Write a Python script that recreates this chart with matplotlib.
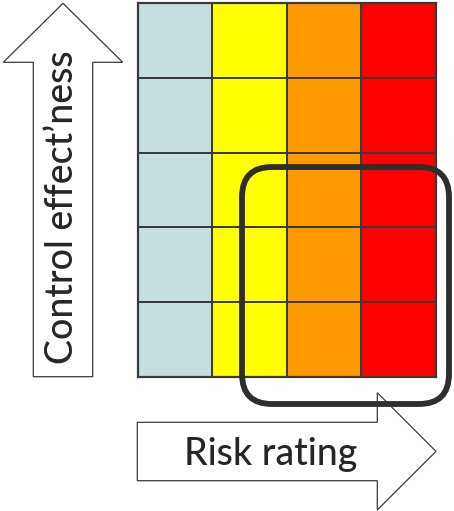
import numpy as np
import matplotlib
matplotlib.use("Agg")
import matplotlib.pyplot as plt
from matplotlib.colors import ListedColormap
from matplotlib.patches import Polygon, FancyBboxPatch

# risk rating columns (low -> high) and control effectiveness rows
risk_levels = ["Low", "Medium", "High", "Very high"]
risk_colors = ["#c5dee0", "#ffff00", "#ff9900", "#ff0000"]
control_levels = ["1", "2", "3", "4", "5"]

x_label = "Risk rating"
y_label = "Control effect\u2019ness"

W, H = 454, 511
line_col = "#3a3a3a"
text_col = "#262626"

fig = plt.figure(figsize=(W / 100, H / 100), dpi=100)

# heat grid
gx0, gx1, gy0, gy1 = 137.5, 436.0, 3.5, 376.5
ax = fig.add_axes([gx0 / W, 1 - gy1 / H, (gx1 - gx0) / W, (gy1 - gy0) / H])
grid = np.tile(np.arange(len(risk_levels)), (len(control_levels), 1))
ax.pcolormesh(grid, cmap=ListedColormap(risk_colors), vmin=-0.5,
              vmax=len(risk_levels) - 0.5, edgecolors=line_col, linewidth=1.1)
ax.set_xlim(0, len(risk_levels))
ax.set_ylim(0, len(control_levels))
ax.set_xticks([])
ax.set_yticks([])
for s in ax.spines.values():
    s.set_color(line_col)
    s.set_linewidth(1.6)

# overlay in pixel coordinates for the arrows and highlight box
ov = fig.add_axes([0, 0, 1, 1])
ov.set_xlim(0, W)
ov.set_ylim(H, 0)
ov.axis("off")

up_arrow = [(33.3, 376.7), (33.3, 62.3), (3.3, 62.3), (63, 3.3),
            (122.7, 62.3), (92.7, 62.3), (92.7, 376.7)]
ov.add_patch(Polygon(up_arrow, closed=True, facecolor="white",
                     edgecolor=line_col, linewidth=0.9, zorder=2))
ov.text(73.5, 207.5, y_label, rotation=90, rotation_mode="anchor",
        ha="center", va="baseline", fontsize=27, fontweight="medium",
        color=text_col, family="Lato", zorder=3)

right_arrow = [(137.3, 422.3), (377.3, 422.3), (377.3, 392.7), (436, 451.4),
               (377.3, 510), (377.3, 480.7), (137.3, 480.7)]
ov.add_patch(Polygon(right_arrow, closed=True, facecolor="white",
                     edgecolor=line_col, linewidth=0.9, zorder=2))
ov.text(270.5, 465, x_label, ha="center", va="baseline",
        fontsize=27, fontweight="medium", color=text_col, family="Lato", zorder=3)

box = FancyBboxPatch((242, 167), 449 - 242, 404 - 167,
                     boxstyle="round,pad=0,rounding_size=30",
                     facecolor="none", edgecolor="#2e2e2e", linewidth=4.2, zorder=4)
ov.add_patch(box)

fig.savefig("out.png", dpi=100)
